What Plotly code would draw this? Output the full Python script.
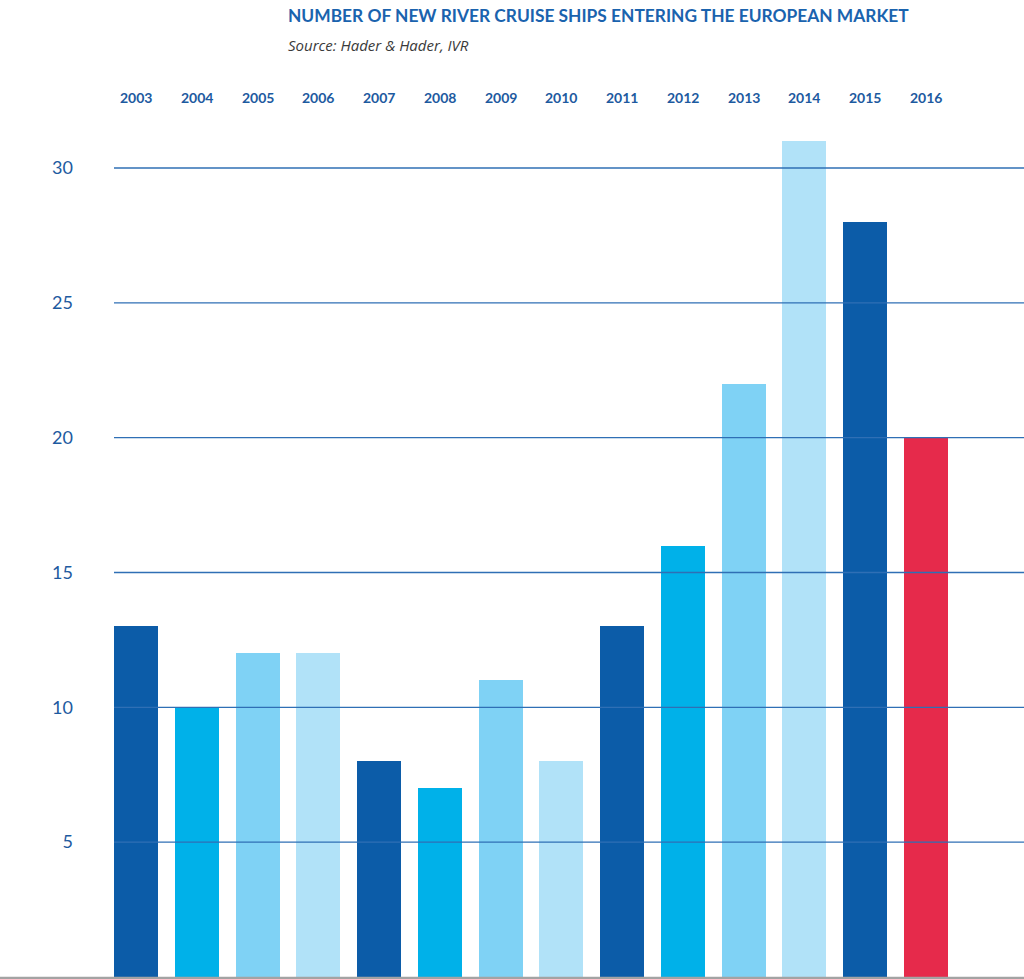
import plotly.graph_objects as go

years = ["2003", "2004", "2005", "2006", "2007", "2008", "2009",
         "2010", "2011", "2012", "2013", "2014", "2015", "2016"]
ships = [13, 10, 12, 12, 8, 7, 11, 8, 13, 16, 22, 31, 28, 20]
bar_colors = ["#0c5ca8", "#00b1e9", "#7fd2f5", "#b1e2f8",
              "#0c5ca8", "#00b1e9", "#7fd2f5", "#b1e2f8",
              "#0c5ca8", "#00b1e9", "#7fd2f5", "#b1e2f8",
              "#0c5ca8", "#e62a4b"]
y_ticks = [5, 10, 15, 20, 25, 30]

title_text = "NUMBER OF NEW RIVER CRUISE SHIPS ENTERING THE EUROPEAN MARKET"
source_text = "Source: Hader & Hader, IVR"

xs = list(range(len(years)))

fig = go.Figure()
fig.add_trace(go.Bar(
    x=xs, y=ships, marker=dict(color=bar_colors, line=dict(width=0)),
    width=0.724, hoverinfo="skip", showlegend=False,
))

# gridlines above bars
for v in y_ticks:
    fig.add_shape(type="line", xref="paper", yref="y", x0=0, x1=1, y0=v, y1=v,
                  line=dict(color="#2f6fb5", width=1.3), layer="above")

# bottom grey rule across full width
fig.add_shape(type="line", xref="paper", yref="paper", x0=-114/910, x1=1,
              y0=-0.0015, y1=-0.0015, line=dict(color="#a3a3a3", width=3), layer="above")

# year labels on top
for i, yr in enumerate(years):
    fig.add_annotation(x=i, y=1.0268, xref="x", yref="paper", text=yr,
                       showarrow=False, xanchor="center", yanchor="middle",
                       font=dict(family="Lato", size=14, color="#1d5aa0", weight="bold"))

fig.add_annotation(x=(286 - 114) / 910, y=1.1225, xref="paper", yref="paper",
                   text=title_text, showarrow=False, xanchor="left", yanchor="middle",
                   font=dict(family="Lato", size=17.35, color="#1a63ae", weight="bold"))
fig.add_annotation(x=(286 - 114) / 910, y=1.0875, xref="paper", yref="paper",
                   text=source_text, showarrow=False, xanchor="left", yanchor="middle",
                   font=dict(family="Open Sans", size=15, color="#3a3a3a", style="italic"))

fig.update_layout(
    width=1024, height=979,
    margin=dict(l=114, r=0, t=120, b=2),
    paper_bgcolor="white", plot_bgcolor="white",
    bargap=0,
    xaxis=dict(range=[-0.362, 14.613], showticklabels=False, showgrid=False,
               zeroline=False, showline=False, fixedrange=True),
    yaxis=dict(range=[0, 31.78], tickvals=y_ticks, ticktext=[str(v) for v in y_ticks],
               showgrid=False, zeroline=False, showline=False, ticks="",
               ticklabelstandoff=40, fixedrange=True,
               tickfont=dict(family="Lato", size=18, color="#1d5aa0")),
)

fig.write_html("out.html", config={"displayModeBar": False, "staticPlot": True},
               post_script="document.body.style.margin='0';document.body.style.overflow='hidden';")
